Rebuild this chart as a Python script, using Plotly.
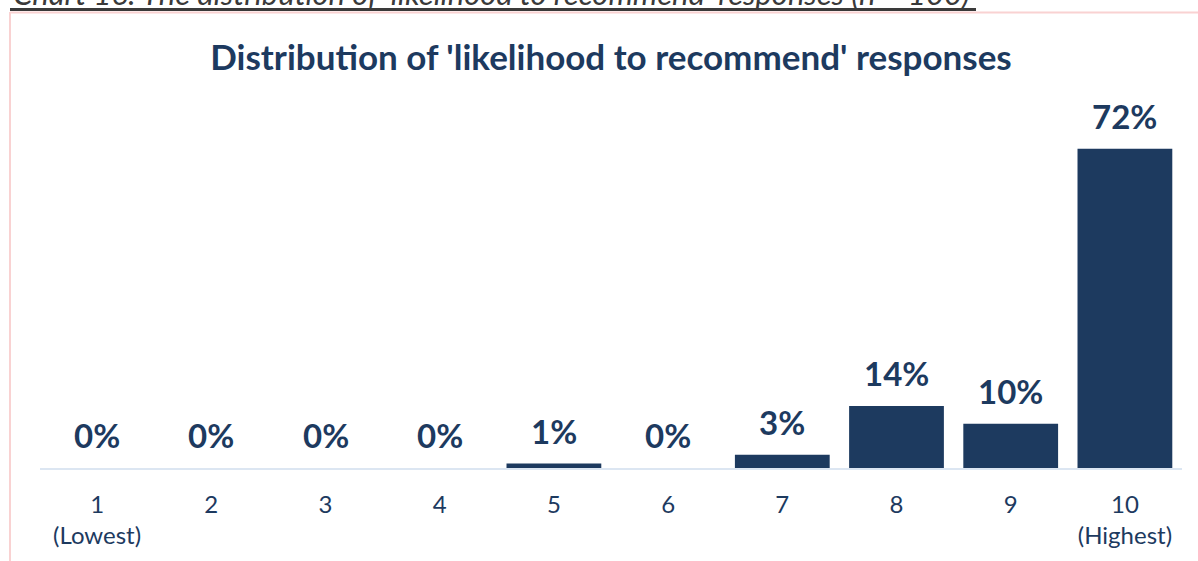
import plotly.graph_objects as go

categories = ["1<br>(Lowest)", "2", "3", "4", "5", "6", "7", "8", "9", "10<br>(Highest)"]
values = [0, 0, 0, 0, 1, 0, 3, 14, 10, 72]
labels = [f"{v}%" for v in values]

NAVY = "#1d3a5f"
FONT = "Lato"

fig = go.Figure()
fig.add_trace(go.Bar(
    x=list(range(len(categories))), y=values,
    marker=dict(color=NAVY, line=dict(width=0)),
    width=0.83,
    hoverinfo="skip",
))

for i, (v, t) in enumerate(zip(values, labels)):
    fig.add_annotation(x=i, y=v, xref="x", yref="y", text=f"<b>{t}</b>",
                       showarrow=False, yanchor="bottom", yshift=11,
                       font=dict(family=FONT, size=33, color=NAVY))

# caption at top (partly cut off, as in the source)
fig.add_annotation(xref="paper", yref="paper", x=(11 - 40) / 1142, y=(468 - 14) / 368,
                   xanchor="left", yanchor="bottom",
                   text="<i>Chart 16: The distribution of 'likelihood to recommend' responses (n = 100)</i>",
                   showarrow=False,
                   font=dict(family=FONT, size=31, color="#3a3a3a"))

fig.update_layout(
    width=1198, height=561,
    margin=dict(l=40, r=16, t=100, b=93),
    paper_bgcolor="white", plot_bgcolor="white",
    showlegend=False,
    title=dict(text="<b>Distribution of 'likelihood to recommend' responses</b>",
               x=611 / 1198, xanchor="center", y=1 - 58 / 561, yanchor="middle",
               font=dict(family=FONT, size=35, color=NAVY)),
    xaxis=dict(tickmode="array", tickvals=list(range(len(categories))), ticktext=categories,
               range=[-0.5, 9.5], showgrid=False, zeroline=False,
               showline=True, linecolor="#dce6f2", linewidth=2,
               ticks="", ticklabelstandoff=14,
               tickfont=dict(family=FONT, size=24, color=NAVY)),
    yaxis=dict(range=[0, 83], visible=False),
    shapes=[
        # underline of caption
        dict(type="line", xref="paper", yref="paper",
             x0=(10 - 40) / 1142, x1=(976 - 40) / 1142,
             y0=(468 - 9.5) / 368, y1=(468 - 9.5) / 368,
             line=dict(color="#3a3a3a", width=3)),
        # pink frame
        dict(type="line", xref="paper", yref="paper",
             x0=(10 - 40) / 1142, x1=(1198 - 40) / 1142,
             y0=(468 - 12.5) / 368, y1=(468 - 12.5) / 368,
             line=dict(color="#f9d2d2", width=2)),
        dict(type="line", xref="paper", yref="paper",
             x0=(10 - 40) / 1142, x1=(10 - 40) / 1142,
             y0=(468 - 12) / 368, y1=(468 - 561) / 368,
             line=dict(color="#f9d2d2", width=2)),
    ],
)

fig.write_html("out.html")
